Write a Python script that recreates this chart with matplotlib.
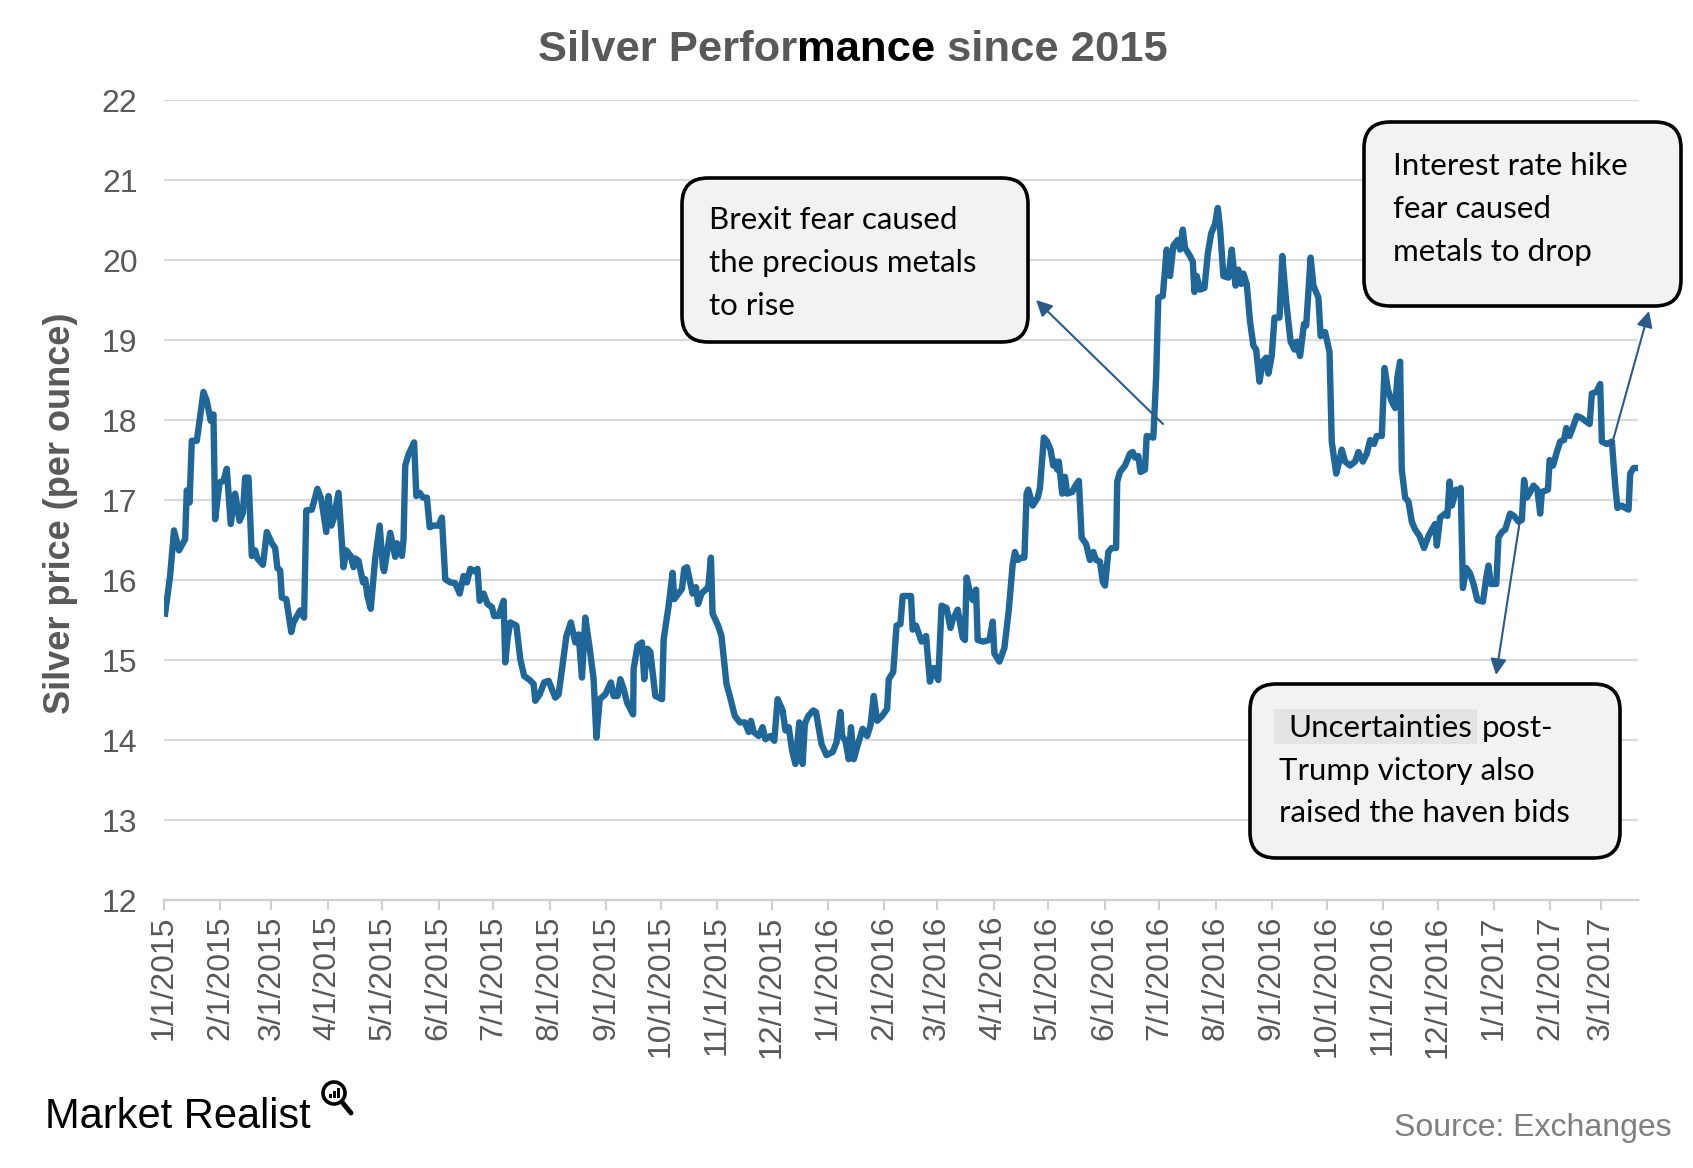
import numpy as np
import pandas as pd
import matplotlib
matplotlib.use("Agg")
import matplotlib.pyplot as plt
import matplotlib.dates as mdates
from matplotlib.patches import FancyBboxPatch, Rectangle, Circle
from matplotlib.ticker import FuncFormatter

# silver price (position in months since 1/1/2015, price)
months_2015 = [
    0.02, 0.11, 0.18, 0.27, 0.38, 0.41, 0.46, 0.50, 0.59, 0.71,
    0.77, 0.84, 0.89, 0.92, 1.00, 1.07, 1.13, 1.20, 1.28, 1.36,
    1.42, 1.46, 1.52, 1.58, 1.64, 1.68, 1.78, 1.85, 1.94, 2.00,
    2.04, 2.09, 2.12, 2.20, 2.29, 2.33, 2.45, 2.52, 2.56, 2.66,
    2.76, 2.83, 2.92, 2.96, 3.01, 3.05, 3.14, 3.23, 3.28, 3.36,
    3.41, 3.44, 3.50, 3.58, 3.62, 3.66, 3.72, 3.80, 3.88, 3.94,
    3.96, 4.07, 4.16, 4.19, 4.28, 4.31, 4.34, 4.40, 4.50, 4.54,
    4.60, 4.66, 4.73, 4.78, 4.85, 4.94, 5.00, 5.06, 5.15, 5.24,
    5.32, 5.39, 5.45, 5.51, 5.58, 5.64, 5.68, 5.75, 5.82, 5.90,
    5.94, 6.02, 6.11, 6.14, 6.18, 6.23, 6.34, 6.41, 6.48, 6.58,
    6.65, 6.68, 6.76, 6.84, 6.92, 7.04, 7.10, 7.24, 7.32, 7.40,
    7.46, 7.52, 7.58, 7.66, 7.73, 7.78, 7.84, 7.94, 8.04, 8.09,
    8.16, 8.21, 8.27, 8.33, 8.44, 8.45, 8.52, 8.60, 8.64, 8.70,
    8.75, 8.84, 8.96, 8.99, 9.08, 9.15, 9.18, 9.32, 9.36, 9.41,
    9.51, 9.57, 9.61, 9.67, 9.76, 9.79, 9.84, 9.87, 9.97, 10.03,
    10.12, 10.18, 10.27, 10.36, 10.45, 10.52, 10.56, 10.61, 10.70, 10.77,
    10.82, 10.91, 10.98, 11.04, 11.13, 11.18, 11.24, 11.30, 11.36, 11.43,
    11.49, 11.53, 11.59, 11.68, 11.73, 11.83, 11.92,
]
price_2015 = [
    15.58, 16.05, 16.62, 16.37, 16.51, 17.12, 16.97, 17.74, 17.74, 18.35,
    18.24, 17.99, 18.07, 16.76, 17.22, 17.24, 17.39, 16.70, 17.08, 16.74,
    16.84, 17.28, 17.28, 16.30, 16.37, 16.27, 16.19, 16.60, 16.46, 16.40,
    16.15, 16.12, 15.78, 15.76, 15.35, 15.47, 15.62, 15.53, 16.87, 16.88,
    17.14, 17.01, 16.60, 17.05, 16.68, 16.76, 17.09, 16.16, 16.37, 16.30,
    16.16, 16.27, 16.24, 15.97, 16.01, 15.80, 15.64, 16.27, 16.68, 16.15,
    16.11, 16.59, 16.29, 16.46, 16.30, 16.51, 17.43, 17.57, 17.72, 17.05,
    17.09, 17.03, 17.03, 16.66, 16.68, 16.68, 16.78, 16.01, 15.97, 15.96,
    15.83, 16.05, 15.97, 16.14, 16.11, 16.14, 15.74, 15.83, 15.70, 15.66,
    15.55, 15.55, 15.74, 14.97, 15.26, 15.47, 15.43, 15.01, 14.80, 14.75,
    14.70, 14.49, 14.57, 14.72, 14.74, 14.53, 14.57, 15.30, 15.47, 15.22,
    15.32, 14.78, 15.53, 15.14, 14.76, 14.03, 14.51, 14.57, 14.72, 14.55,
    14.55, 14.76, 14.64, 14.47, 14.32, 14.89, 15.18, 15.22, 14.76, 15.14,
    15.10, 14.55, 14.51, 15.26, 15.68, 16.09, 15.76, 15.89, 16.14, 16.16,
    15.83, 15.91, 15.70, 15.83, 15.89, 15.89, 16.28, 15.58, 15.43, 15.30,
    14.70, 14.55, 14.30, 14.22, 14.22, 14.10, 14.24, 14.10, 14.05, 14.16,
    14.01, 14.05, 13.99, 14.51, 14.37, 14.12, 14.16, 13.87, 13.70, 14.22,
    13.70, 14.20, 14.30, 14.37, 14.35, 13.95, 13.81,
]

months_2016 = [
    12.03, 12.10, 12.17, 12.20, 12.26, 12.32, 12.36, 12.41, 12.47, 12.53,
    12.57, 12.65, 12.71, 12.77, 12.83, 12.92, 13.01, 13.04, 13.12, 13.18,
    13.25, 13.29, 13.44, 13.47, 13.53, 13.63, 13.71, 13.78, 13.85, 13.93,
    13.99, 14.08, 14.15, 14.19, 14.28, 14.37, 14.41, 14.44, 14.50, 14.55,
    14.61, 14.64, 14.74, 14.85, 14.91, 14.94, 15.03, 15.12, 15.20, 15.27,
    15.31, 15.36, 15.43, 15.48, 15.52, 15.55, 15.63, 15.72, 15.76, 15.83,
    15.89, 15.95, 16.00, 16.04, 16.07, 16.10, 16.16, 16.21, 16.25, 16.34,
    16.40, 16.46, 16.51, 16.59, 16.66, 16.72, 16.77, 16.84, 16.89, 16.93,
    16.99, 17.05, 17.13, 17.15, 17.20, 17.29, 17.38, 17.43, 17.47, 17.53,
    17.57, 17.65, 17.68, 17.80, 17.85, 17.89, 17.97, 18.04, 18.10, 18.16,
    18.24, 18.28, 18.33, 18.37, 18.46, 18.51, 18.54, 18.58, 18.64, 18.72,
    18.78, 18.84, 18.91, 18.96, 19.00, 19.06, 19.15, 19.21, 19.28, 19.33,
    19.38, 19.42, 19.48, 19.54, 19.60, 19.65, 19.71, 19.77, 19.83, 19.87,
    19.93, 19.98, 20.07, 20.12, 20.19, 20.27, 20.34, 20.38, 20.44, 20.51,
    20.55, 20.63, 20.68, 20.77, 20.81, 20.89, 20.97, 21.01, 21.09, 21.15,
    21.19, 21.25, 21.34, 21.43, 21.49, 21.57, 21.64, 21.70, 21.77, 21.82,
    21.91, 21.96, 22.02, 22.09, 22.15, 22.19, 22.24, 22.27, 22.33, 22.39,
    22.45, 22.51, 22.59, 22.67, 22.75, 22.81, 22.87, 22.90, 22.96, 23.05,
    23.09, 23.13, 23.17, 23.25, 23.29, 23.33, 23.37, 23.43, 23.50, 23.56,
    23.63, 23.73, 23.79, 23.83, 23.87, 23.97,
]
price_2016 = [
    13.85, 13.97, 14.35, 14.05, 13.99, 13.76, 14.16, 13.76, 13.91, 14.05,
    14.14, 14.05, 14.18, 14.55, 14.24, 14.30, 14.39, 14.76, 14.85, 15.43,
    15.45, 15.80, 15.80, 15.38, 15.43, 15.23, 15.30, 14.73, 14.90, 14.75,
    15.68, 15.65, 15.40, 15.50, 15.63, 15.28, 15.25, 16.03, 15.85, 15.75,
    15.88, 15.25, 15.23, 15.25, 15.48, 15.08, 14.98, 15.15, 15.63, 16.20,
    16.35, 16.25, 16.28, 16.28, 17.08, 17.13, 16.93, 17.03, 17.15, 17.78,
    17.73, 17.63, 17.43, 17.48, 17.38, 17.48, 17.08, 17.29, 17.08, 17.10,
    17.18, 17.24, 16.53, 16.45, 16.25, 16.35, 16.25, 16.23, 15.98, 15.93,
    16.35, 16.40, 16.40, 17.23, 17.35, 17.43, 17.58, 17.60, 17.53, 17.55,
    17.35, 17.38, 17.80, 17.78, 18.53, 19.53, 19.55, 20.13, 19.80, 20.18,
    20.25, 20.13, 20.38, 20.15, 20.05, 19.98, 19.60, 19.80, 19.63, 19.65,
    20.08, 20.33, 20.45, 20.65, 20.40, 19.80, 19.78, 20.13, 19.68, 19.88,
    19.70, 19.83, 19.70, 19.23, 18.93, 18.88, 18.48, 18.73, 18.78, 18.58,
    18.80, 19.28, 19.28, 20.05, 19.48, 18.98, 18.88, 18.98, 18.80, 19.20,
    19.18, 20.03, 19.68, 19.53, 19.05, 19.10, 18.85, 17.73, 17.33, 17.50,
    17.63, 17.48, 17.43, 17.48, 17.60, 17.48, 17.58, 17.75, 17.70, 17.80,
    17.80, 18.65, 18.38, 18.23, 18.15, 18.53, 18.73, 17.38, 17.03, 16.98,
    16.73, 16.63, 16.55, 16.40, 16.55, 16.63, 16.70, 16.43, 16.78, 16.83,
    16.80, 17.23, 16.93, 17.13, 17.08, 17.15, 15.90, 16.15, 16.08, 15.95,
    15.75, 15.73, 16.03, 16.18, 15.95, 15.95,
]

months_2017 = [
    24.01, 24.07, 24.13, 24.22, 24.29, 24.37, 24.43, 24.47, 24.52, 24.58,
    24.64, 24.71, 24.76, 24.79, 24.90, 24.93, 24.99, 25.06, 25.12, 25.19,
    25.23, 25.29, 25.36, 25.42, 25.49, 25.59, 25.65, 25.69, 25.77, 25.84,
    25.87, 25.96, 26.05, 26.11, 26.15, 26.23, 26.29, 26.35, 26.38, 26.44,
    26.52,
]
price_2017 = [
    16.53, 16.60, 16.63, 16.83, 16.80, 16.73, 16.75, 17.25, 17.03, 17.10,
    17.18, 17.13, 16.83, 17.10, 17.13, 17.50, 17.43, 17.60, 17.73, 17.75,
    17.90, 17.80, 17.93, 18.05, 18.03, 17.98, 17.95, 18.33, 18.35, 18.45,
    17.73, 17.70, 17.73, 17.18, 16.90, 16.93, 16.90, 16.88, 17.33, 17.40,
    17.40,
]

y_ticks = list(range(12, 23))

title_parts = [("Silver Perfor", "#595959"), ("mance", "black"), ("since 2015", "#595959")]
y_label = "Silver price (per ounce)"
source_text = "Source: Exchanges"
brand_text = "Market Realist"
brexit_lines = ["Brexit fear caused", "the precious metals", "to rise"]
rate_lines = ["Interest rate hike", "fear caused", "metals to drop"]
trump_lines = ["Uncertainties", "post-", "Trump victory also", "raised the haven bids"]

START = pd.Timestamp("2015-01-01")
DAYS_PER_MONTH = 30.55  # width of one month step as read, in days on the date axis

month_pos = np.array(months_2015 + months_2016 + months_2017)
prices = np.array(price_2015 + price_2016 + price_2017)
dates = START + pd.to_timedelta(month_pos * DAYS_PER_MONTH, unit="D")

W, H = 1693, 1168
GRAY = "#595959"
LINE = "#1F6699"
ARROW = "#2A5A87"
BOX_FACE = "#F2F2F2"

plt.rcParams["font.family"] = ["Liberation Sans", "DejaVu Sans"]

fig = plt.figure(figsize=(W / 100, H / 100), dpi=100)
ax = fig.add_axes([164 / W, 1 - 900 / H, (1638 - 164) / W, 800 / H])

ax.plot(dates, prices, color=LINE, lw=4.6, solid_joinstyle="round", zorder=3)

ax.set_ylim(12, 22)
ax.set_yticks(y_ticks)
ax.set_xlim(START, dates[-1])
ax.grid(axis="y", color="#D9D9D9", lw=1.6)
ax.set_axisbelow(True)
for side in ["left", "right", "top"]:
    ax.spines[side].set_visible(False)
ax.spines["bottom"].set_color("#CFCFCF")
ax.spines["bottom"].set_linewidth(1.6)

ax.xaxis.set_major_locator(mdates.MonthLocator(bymonthday=1))
ax.xaxis.set_major_formatter(FuncFormatter(
    lambda v, pos: "{d.month}/{d.day}/{d.year}".format(d=mdates.num2date(v))))
ax.tick_params(axis="x", direction="out", length=7, width=1.5, color="#CFCFCF",
               labelrotation=90, labelsize=23, labelcolor=GRAY, pad=4)
ax.tick_params(axis="y", length=0, labelsize=23, labelcolor=GRAY, pad=19)

fig.text(61 / W, 1 - 513 / H, y_label, rotation=90, ha="center", va="center",
         fontsize=26, fontweight="bold", color=GRAY)

# overlay in pixel units for titles, callouts and logo
ov = fig.add_axes([0, 0, 1, 1], zorder=5)
ov.set_xlim(0, W)
ov.set_ylim(H, 0)
ov.axis("off")
ov.patch.set_alpha(0)

# title in three pieces (the "mance" part is black in the original)
renderer = fig.canvas.get_renderer()
title_font = dict(fontsize=31.3, fontweight="bold", ha="left", va="baseline")
probe = ov.text(0, 0, title_parts[0][0] + title_parts[1][0], **title_font)
head_w = probe.get_window_extent(renderer=renderer).width
probe.remove()
x = 538
t1 = ov.text(x, 61, title_parts[0][0], color=title_parts[0][1], **title_font)
x_m = x + t1.get_window_extent(renderer=renderer).width
ov.text(x_m, 61, title_parts[1][0], color=title_parts[1][1], **title_font)
ov.text(x + head_w + 12, 61, title_parts[2][0], color=title_parts[2][1], **title_font)

# callout boxes
def callout(x0, y0, x1, y1):
    ov.add_patch(FancyBboxPatch((x0, y0), x1 - x0, y1 - y0,
                                boxstyle="round,pad=0,rounding_size=26",
                                fc=BOX_FACE, ec="black", lw=2.6))

callout(682, 178, 1028, 342)
callout(1364, 122, 1681, 306)
callout(1250, 684, 1620, 858)

note_font = dict(family=["Lato", "DejaVu Sans"], fontsize=22.5, color="black",
                 ha="left", va="baseline")
for i, line in enumerate(brexit_lines):
    ov.text(709, 229 + 43 * i, line, **note_font)
for i, line in enumerate(rate_lines):
    ov.text(1393, 175 + 43 * i, line, **note_font)

ov.add_patch(Rectangle((1274, 709), 203, 35, fc="#E4E4E4", ec="none"))
ov.text(1288, 737, trump_lines[0], **note_font)
ov.text(1482, 737, trump_lines[1], **note_font)
ov.text(1279, 780, trump_lines[2], **note_font)
ov.text(1279, 822, trump_lines[3], **note_font)

arrow_style = dict(arrowstyle="-|>", color=ARROW, lw=1.5, mutation_scale=24,
                   shrinkA=0, shrinkB=0)
ov.annotate("", xy=(1036, 300), xytext=(1163, 424), arrowprops=arrow_style)
ov.annotate("", xy=(1649, 311), xytext=(1612, 444), arrowprops=arrow_style)
ov.annotate("", xy=(1496, 675), xytext=(1520, 520), arrowprops=arrow_style)

# footer
ov.text(1671, 1136, source_text, fontsize=23, color="#7F7F7F", ha="right",
        va="baseline")
ov.text(45, 1128, brand_text, fontsize=30, color="black", ha="left",
        va="baseline")
ov.add_patch(Circle((334, 1093), 11, fc="none", ec="black", lw=2.6))
ov.plot([342, 351], [1102, 1113], color="black", lw=3.5, solid_capstyle="round")
for bx, bh in [(329, 4), (333, 7), (337, 10)]:
    ov.add_patch(Rectangle((bx, 1098 - bh), 2.5, bh, fc="black", ec="none"))

fig.savefig("out.png", dpi=100)
